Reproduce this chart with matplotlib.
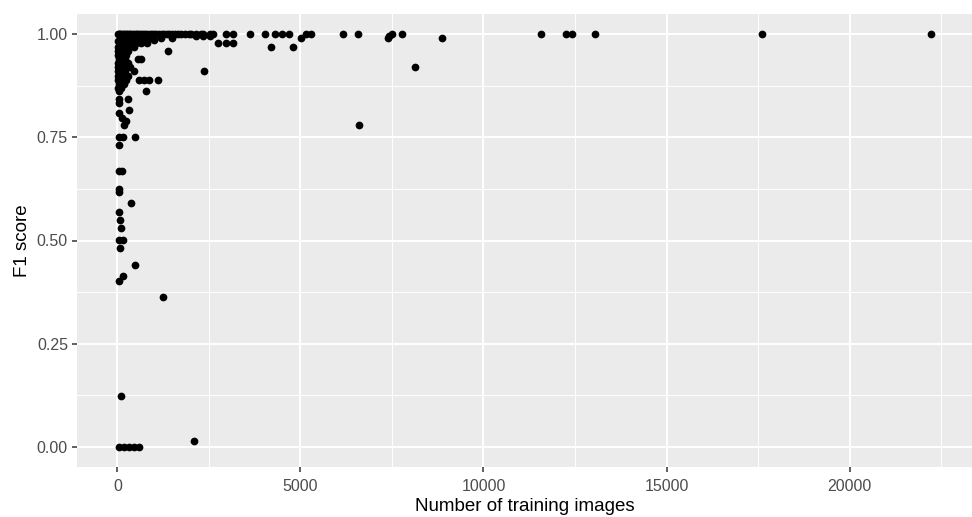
import matplotlib
matplotlib.use("Agg")
import matplotlib.pyplot as plt
from matplotlib.ticker import FixedLocator
import numpy as np

plt.rcParams['font.family'] = ['Liberation Sans', 'DejaVu Sans']

# ---- data ----
top_x = [20, 50, 80, 110, 150, 190, 230, 270, 310, 350, 400, 450, 500, 550, 600,
         650, 700, 760, 820, 880, 940, 1000, 1070, 1140, 1210, 1280, 1350, 1420,
         1500, 1580, 1660, 1750, 1850, 1960, 2013, 2150, 2290, 2330, 2530, 2600,
         2970, 3150, 3610, 4020, 4300, 4490, 4690, 5155, 5290, 6170, 6580, 7490,
         7780, 11560, 12250, 12410, 13050, 17600, 22230]
top_y = [1.0] * len(top_x)

high_x = [5020, 7385, 7430, 8880, 2740, 2970, 3150, 4200, 4790, 1374, 2377, 8140,
          6610, 1011, 2150, 2330, 2530]
high_y = [0.99, 0.99, 0.995, 0.99, 0.98, 0.98, 0.98, 0.97, 0.97, 0.96, 0.912, 0.92,
          0.78, 0.987, 0.995, 0.995, 0.995]

cluster_x = [100, 200, 300, 420, 560, 700, 850, 1200, 1500,
             60, 150, 250, 380, 520, 640, 800,
             30, 120, 220, 330, 450,
             20, 80, 180, 280,
             10, 60, 150, 250,
             40, 120, 200, 555, 647,
             20, 90, 170, 300,
             10, 60, 140, 250, 350,
             30, 100, 200, 464,
             10, 70, 160, 300,
             20, 120, 250, 601, 738, 874, 1101,
             50, 180,
             10, 100,
             55, 784,
             55, 282, 40, 330, 55, 140, 230, 191,
             55, 145, 492, 55,
             30, 90, 150, 210, 60, 130, 190, 40, 110, 170]
cluster_y = [0.99] * 9 + [0.98] * 7 + [0.97] * 5 + [0.96] * 4 + [0.95] * 4 + \
            [0.94] * 5 + [0.93] * 4 + [0.92] * 5 + [0.91] * 4 + [0.90] * 4 + \
            [0.89] * 7 + [0.88] * 2 + [0.87] * 2 + [0.862] * 2 + \
            [0.842, 0.842, 0.834, 0.817, 0.809, 0.797, 0.789, 0.781] + \
            [0.752, 0.752, 0.752, 0.732] + \
            [0.985, 0.985, 0.985, 0.985, 0.965, 0.965, 0.965, 0.945, 0.945, 0.925]

low_x = [40, 120, 40, 40, 374, 40, 80, 110, 55, 164, 80, 492, 145, 40, 1238, 101,
         55, 191, 328, 464, 601, 2085]
low_y = [0.669, 0.669, 0.625, 0.617, 0.591, 0.570, 0.550, 0.530, 0.502, 0.502, 0.482,
         0.441, 0.413, 0.402, 0.364, 0.123, 0.0, 0.0, 0.0, 0.0, 0.0, 0.014]

train_images = np.array(top_x + high_x + cluster_x + low_x, dtype=float)
f1_score = np.array(top_y + high_y + cluster_y + low_y, dtype=float)

x_ticks = [0, 5000, 10000, 15000, 20000]
x_tick_labels = ["0", "5000", "10000", "15000", "20000"]
y_ticks = [0.0, 0.25, 0.5, 0.75, 1.0]
y_tick_labels = ["0.00", "0.25", "0.50", "0.75", "1.00"]

# ---- figure ----
fig = plt.figure(figsize=(9.72, 5.17), dpi=100)
H = 517.0
W = 972.0
ax = fig.add_axes([77 / W, (H - 467.3) / H, (W - 77) / W, (467.3 - 13.7) / H])
ax.set_facecolor("#EBEBEB")

ax.scatter(train_images, f1_score, s=31, color="black", linewidths=0, zorder=3)

xr = train_images.max() - train_images.min()
ax.set_xlim(train_images.min() - 0.05 * xr, train_images.max() + 0.05 * xr)
yr = f1_score.max() - f1_score.min()
ax.set_ylim(f1_score.min() - 0.05 * yr, f1_score.max() + 0.05 * yr)

ax.xaxis.set_major_locator(FixedLocator(x_ticks))
ax.set_xticklabels(x_tick_labels)
ax.xaxis.set_minor_locator(FixedLocator([2500, 7500, 12500, 17500, 22500]))
ax.yaxis.set_major_locator(FixedLocator(y_ticks))
ax.set_yticklabels(y_tick_labels)
ax.yaxis.set_minor_locator(FixedLocator([0.125, 0.375, 0.625, 0.875]))

ax.grid(which="major", color="white", linewidth=1.4, zorder=0)
ax.grid(which="minor", color="white", linewidth=0.7, zorder=0)
ax.set_axisbelow(True)

for s in ax.spines.values():
    s.set_visible(False)

ax.tick_params(which="major", direction="out", length=3.5, width=1.1, color="#333333",
               labelcolor="#4D4D4D", labelsize=11.5, pad=3)
ax.tick_params(axis="x", which="major", pad=5)
ax.tick_params(which="minor", length=0)

ax.set_xlabel("Number of training images", fontsize=13.5, color="black", labelpad=3)
ax.set_ylabel("F1 score", fontsize=13.5, color="black", labelpad=4)

fig.savefig("out.png", dpi=100)
